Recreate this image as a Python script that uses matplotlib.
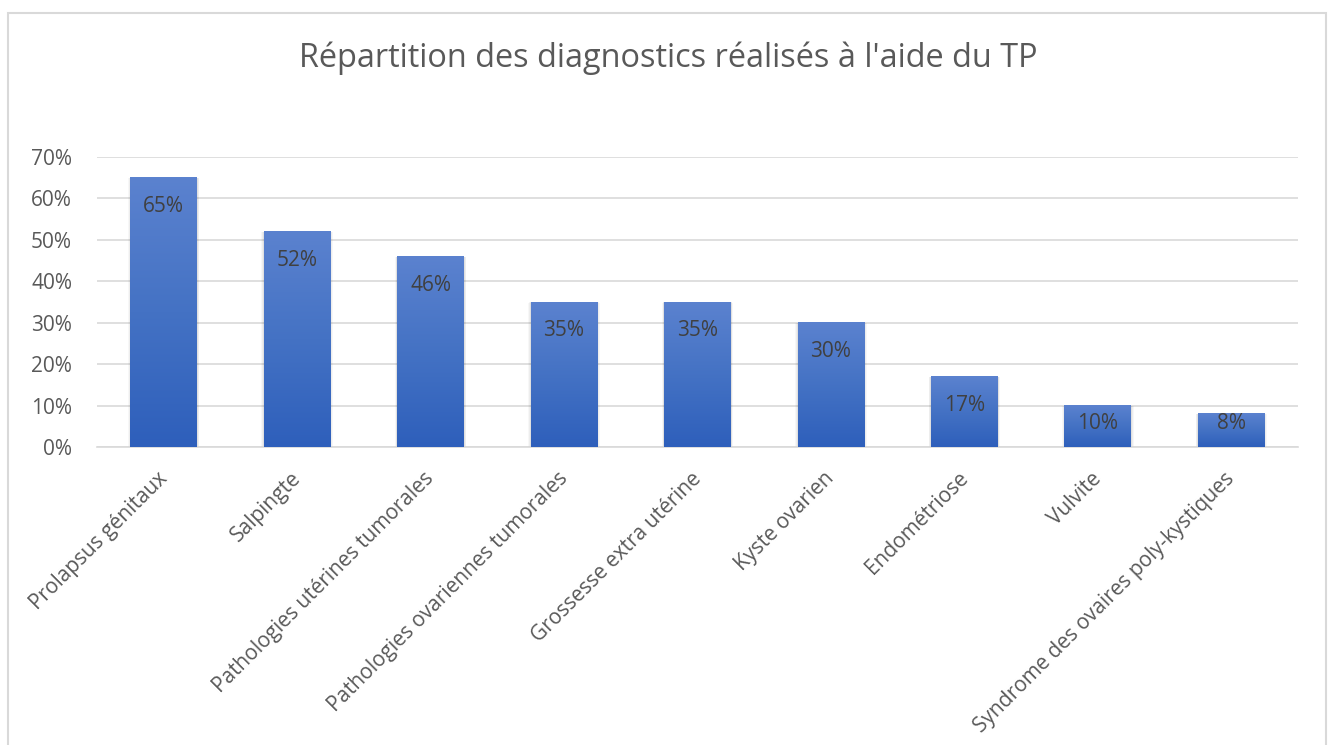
import matplotlib
matplotlib.use("Agg")
import matplotlib.pyplot as plt
import matplotlib.transforms as mtransforms
import numpy as np
from matplotlib.patches import Rectangle
from matplotlib.colors import LinearSegmentedColormap

categories = ["Prolapsus génitaux", "Salpingte", "Pathologies utérines tumorales",
              "Pathologies ovariennes tumorales", "Grossesse extra utérine",
              "Kyste ovarien", "Endométriose", "Vulvite",
              "Syndrome des ovaires poly-kystiques"]
values = [65, 52, 46, 35, 35, 30, 17, 10, 8]
yticks = [0, 10, 20, 30, 40, 50, 60, 70]
title = "Répartition des diagnostics réalisés à l'aide du TP"

plt.rcParams['font.family'] = ['Open Sans', 'DejaVu Sans']

W, H = 1333, 745
fig = plt.figure(figsize=(W/100, H/100), dpi=100)
fig.patch.set_facecolor("white")

# outer chart border
fig.patches.append(Rectangle((8/W, -0.05), (1326-8)/W, 1.05 - 13/H,
                             transform=fig.transFigure, fill=False,
                             edgecolor="#d9d9d9", linewidth=1.5))

ax = fig.add_axes([97/W, 1-447/H, (1298-97)/W, (447-157)/H])
x = np.arange(len(categories))
bars = ax.bar(x, values, width=0.5, color="none", zorder=3)

cmap = LinearSegmentedColormap.from_list("g", ["#2E5FBB", "#4472C4", "#5B82CF"])
grad = np.linspace(0, 1, 256).reshape(-1, 1)
for b in bars:
    x0, w, h = b.get_x(), b.get_width(), b.get_height()
    for k, a in enumerate([0.05, 0.04, 0.03]):
        d = 0.006 * (k + 1)
        ax.add_patch(Rectangle((x0 - d, -0.15 * (k + 1)), w + 2 * d, h + 0.1 * (k + 1),
                               color="#000000", alpha=a, zorder=2, linewidth=0))
    ax.imshow(grad, cmap=cmap, extent=(x0, x0 + w, 0, h), origin="lower",
              aspect="auto", zorder=3)

for xi, v in zip(x, values):
    ax.text(xi, max(v - 6.9, 5.6), f"{v}%", ha="center", va="center", fontsize=15,
            color="#404040", zorder=5)

ax.set_xlim(-0.5, len(categories) - 0.5)
ax.set_ylim(0, 70)
ax.set_yticks(yticks)
ax.set_yticklabels([f"{t}%" for t in yticks], fontsize=15, color="#595959")
ax.set_xticks(x)
ax.set_xticklabels([])
lbl_trans = ax.get_xaxis_transform() + mtransforms.ScaledTranslation(
    -7/100, -21/100, fig.dpi_scale_trans)
for xi, c in zip(x, categories):
    ax.text(xi, 0, c, transform=lbl_trans, rotation=45, ha="right", va="top",
            rotation_mode="anchor", fontsize=15, color="#595959", clip_on=False)
ax.tick_params(axis="both", length=0)
ax.tick_params(axis="y", pad=18)
ax.grid(axis="y", color="#d9d9d9", linewidth=1.2, zorder=0)
for s in ["top", "right", "left"]:
    ax.spines[s].set_visible(False)
ax.spines["bottom"].set_color("#d9d9d9")
ax.spines["bottom"].set_linewidth(1.2)
ax.set_facecolor("none")

fig.text(668/W, 1 - 58/H, title, ha="center", va="center", fontsize=23.4,
         color="#595959")

fig.savefig("out.png", dpi=100)
